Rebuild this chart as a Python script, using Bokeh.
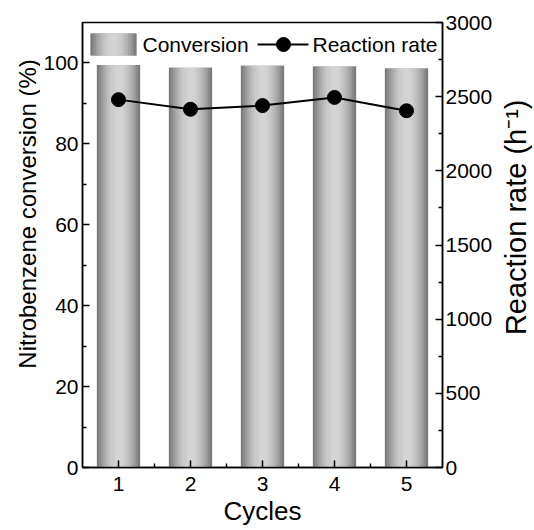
import math
import numpy as np
from bokeh.plotting import figure
from bokeh.layouts import row
from bokeh.models import Range1d, LinearAxis, FixedTicker, Label, ColumnDataSource
from bokeh.embed import file_html
from bokeh.resources import INLINE

# ---------------- data ----------------
cycles = [1, 2, 3, 4, 5]
conversion = [99.5, 98.8, 99.3, 99.1, 98.6]          # %
reaction_rate = [2480, 2415, 2440, 2495, 2405]        # h^-1
x_ticks = [1, 2, 3, 4, 5]
x_minor = [1.5, 2.5, 3.5, 4.5]
left_ticks = [0, 20, 40, 60, 80, 100]
left_minor = [10, 30, 50, 70, 90]
right_ticks = [0, 500, 1000, 1500, 2000, 2500, 3000]
right_minor = [250, 750, 1250, 1750, 2250, 2750]

# ---------------- style ----------------
FONT = "Liberation Sans"
BAR_W = 0.6
N_STRIPS = 22
LO, HI = 0x72, 0xd4

def shade(t):
    v = int(round(LO + (HI - LO) * np.sin(np.pi * t) ** 0.9))
    return "#%02x%02x%02x" % (v, v, v)

W, H = 534, 530
TL, TR = 40, 34                    # side strips holding the axis titles
ML, MR, MT, MB = 82, 92, 22, 63    # frame margins in the whole window
FW, FH = W - ML - MR, H - MT - MB
XR = (0.5, 5.5)
YR = (0, 110)
RR = (0, 3000)

p = figure(width=W - TL - TR, height=H, x_range=Range1d(*XR), y_range=Range1d(*YR),
           output_backend="svg", toolbar_location=None,
           min_border_left=ML - TL, min_border_right=MR - TR, min_border_top=MT, min_border_bottom=MB)
p.extra_y_ranges = {"rate": Range1d(*RR)}

# ---------------- bars with cylindrical gradient ----------------
p.vbar(x=cycles, top=conversion, width=BAR_W, bottom=0, fill_color="#a6a6a6", line_color=None)
lefts, rights, tops, colors = [], [], [], []
sw = BAR_W / N_STRIPS
for c, v in zip(cycles, conversion):
    for k in range(N_STRIPS):
        l = c - BAR_W / 2 + k * sw
        lefts.append(l)
        rights.append(l + (sw * 1.6 if k < N_STRIPS - 1 else sw))
        tops.append(v)
        colors.append(shade((k + 0.5) / N_STRIPS))
src = ColumnDataSource(dict(left=lefts, right=rights, top=tops, color=colors))
p.quad(left="left", right="right", top="top", bottom=0, fill_color="color", line_color=None, source=src)

# ---------------- reaction rate ----------------
p.line(cycles, reaction_rate, y_range_name="rate", line_color="black", line_width=2)
p.scatter(cycles, reaction_rate, y_range_name="rate", size=14, fill_color="black", line_color="black")

# ---------------- manual legend (pixel layout -> data coords) ----------------
def sx(px):
    return XR[0] + (px - ML) / FW * (XR[1] - XR[0])

def sy(py):
    return YR[0] + (MT + FH - py) / FH * (YR[1] - YR[0])

lg_l, lg_r, lg_t, lg_b = sx(90), sx(136), sy(33), sy(55)
nl = 16
lsw = (lg_r - lg_l) / nl
ll, lr, lc = [], [], []
for k in range(nl):
    a = lg_l + k * lsw
    ll.append(a)
    lr.append(a + (lsw * 1.6 if k < nl - 1 else lsw))
    lc.append(shade((k + 0.5) / nl))
p.quad(left=lg_l, right=lg_r, top=lg_t, bottom=lg_b, fill_color="#a6a6a6", line_color=None)
p.quad(left=ll, right=lr, top=lg_t, bottom=lg_b, fill_color=lc, line_color=None)
ymid = sy(44)
p.add_layout(Label(x=sx(142), y=ymid, text="Conversion", text_font=FONT, text_font_size="21px",
                   text_baseline="middle", text_color="black"))
p.line([sx(257), sx(308)], [ymid, ymid], line_color="black", line_width=2)
p.scatter([sx(283)], [ymid], size=14, fill_color="black", line_color="black")
p.add_layout(Label(x=sx(312), y=ymid, text="Reaction rate", text_font=FONT, text_font_size="21px",
                   text_baseline="middle", text_color="black"))

# ---------------- axes ----------------
p.xgrid.visible = False
p.ygrid.visible = False
p.outline_line_color = "black"
p.outline_line_width = 1.5

right = LinearAxis(y_range_name="rate")
p.add_layout(right, "right")

def style(ax, size_label):
    ax.axis_line_width = 1.5
    ax.axis_line_color = "black"
    ax.major_tick_in = 7
    ax.major_tick_out = 0
    ax.minor_tick_in = 4
    ax.minor_tick_out = 0
    ax.major_tick_line_width = 1.5
    ax.minor_tick_line_width = 1.5
    ax.major_tick_line_color = "black"
    ax.minor_tick_line_color = "black"
    ax.major_label_text_font = FONT
    ax.major_label_text_font_size = "21px"
    ax.major_label_text_color = "black"
    ax.axis_label_text_font = FONT
    ax.axis_label_text_font_size = size_label
    ax.axis_label_text_font_style = "normal"
    ax.axis_label_text_color = "black"

xa = p.xaxis[0]
xa.ticker = FixedTicker(ticks=x_ticks, minor_ticks=x_minor)
xa.axis_label = "Cycles"
style(xa, "26px")
xa.major_label_standoff = 9
xa.axis_label_standoff = 2

ya = p.yaxis[0]
ya.ticker = FixedTicker(ticks=left_ticks, minor_ticks=left_minor)
style(ya, "24px")
ya.major_label_standoff = 4

right.ticker = FixedTicker(ticks=right_ticks, minor_ticks=right_minor)
style(right, "29px")
right.major_label_standoff = 3

# ---------------- side strips with rotated axis titles ----------------
def title_strip(width, text, size, cx, cy):
    f = figure(width=width, height=H, x_range=Range1d(0, width), y_range=Range1d(0, H),
               output_backend="svg", toolbar_location=None, min_border=0)
    f.axis.visible = False
    f.grid.visible = False
    f.outline_line_color = None
    f.add_layout(Label(x=cx, y=H - cy, text=text, angle=math.pi / 2, text_font=FONT,
                       text_font_size=size, text_align="center", text_baseline="middle",
                       text_color="black"))
    return f

left_title = title_strip(TL, "Nitrobenzene conversion (%)", "24px", 27, 228)
right_title = title_strip(TR, "Reaction rate (h\u207b\u00b9)", "29px", 515 - (W - TR), 232)

layout = row(left_title, p, right_title, spacing=0)
open("out.html", "w").write(file_html(layout, INLINE))
